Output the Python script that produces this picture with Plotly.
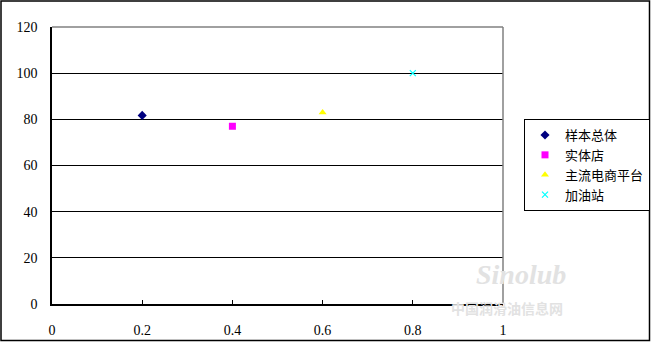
import plotly.graph_objects as go

series_names = ["样本总体", "实体店", "主流电商平台", "加油站"]
x_values = [0.2, 0.4, 0.6, 0.8]
y_values = [81.7, 77.0, 83.0, 100.0]
marker_symbols = ["diamond", "square", "triangle-up", "x-thin"]
marker_colors = ["#000080", "#FF00FF", "#FFFF00", "#00FFFF"]

x_ticks = [0, 0.2, 0.4, 0.6, 0.8, 1]
x_tick_labels = ["0", "0.2", "0.4", "0.6", "0.8", "1"]
y_ticks = [0, 20, 40, 60, 80, 100, 120]

W, H = 651, 342
L, R, T, B = 52, 148, 27, 38
pw = W - L - R
ph = H - T - B

fig = go.Figure()
for name, x, y, sym, col in zip(series_names, x_values, y_values, marker_symbols, marker_colors):
    mk = dict(symbol=sym, color=col, size=7 if sym != "x-thin" else 6)
    if sym == "x-thin":
        mk["line"] = dict(color=col, width=1.2)
    fig.add_trace(go.Scatter(x=[x], y=[y], mode="markers", name=name, marker=mk))

font_family = "Liberation Serif, Noto Sans CJK SC, serif"

fig.update_layout(
    width=W, height=H,
    margin=dict(l=L, r=R, t=T, b=B, autoexpand=False),
    paper_bgcolor="white", plot_bgcolor="white",
    font=dict(family=font_family, size=13, color="black"),
    xaxis=dict(range=[0, 1], tickvals=x_ticks, ticktext=x_tick_labels,
               showgrid=False, zeroline=False, showline=True, linecolor="black",
               linewidth=1.5, ticks="inside", ticklen=4, tickcolor="black",
               tickfont=dict(size=14), ticklabelstandoff=12),
    yaxis=dict(range=[0, 120], tickvals=y_ticks, showgrid=True, gridcolor="black",
               gridwidth=1.2, zeroline=False, showline=True, linecolor="black",
               linewidth=1.5, ticks="", tickfont=dict(size=14), ticklabelstandoff=10),
    legend=dict(x=(524 - L) / pw, y=(H - B - 119) / ph, xanchor="left", yanchor="top",
                bordercolor="black", borderwidth=1, bgcolor="white",
                font=dict(family="Noto Sans CJK SC, sans-serif", size=13),
                itemwidth=30, tracegroupgap=0),
    showlegend=True,
)

# gray top and right borders of plot area
fig.add_shape(type="line", xref="paper", yref="paper", x0=0, x1=1, y0=1, y1=1,
              line=dict(color="#808080", width=1.5))
fig.add_shape(type="line", xref="paper", yref="paper", x0=1, x1=1, y0=0, y1=1,
              line=dict(color="#808080", width=1.5))
# outer chart frame
fig.add_shape(type="rect", xref="paper", yref="paper",
              x0=(1 - L) / pw, x1=(649.5 - L) / pw,
              y0=(H - B - 340.5) / ph, y1=(H - B - 1) / ph,
              line=dict(color="black", width=1.5), layer="above")

# watermark
fig.add_annotation(xref="paper", yref="paper", x=(568 - L) / pw, y=(H - B - 292) / ph,
                   text="<b><i>Sinolub</i></b>", showarrow=False,
                   font=dict(size=28, color="#e2e2e2", family="Liberation Serif"))
fig.add_annotation(xref="paper", yref="paper", x=(565 - L) / pw, y=(H - B - 320) / ph,
                   text="<b>中国润滑油信息网</b>", showarrow=False,
                   font=dict(size=14, color="#e2e2e2", family="Noto Sans CJK SC"))

fig.write_html("out.html")
